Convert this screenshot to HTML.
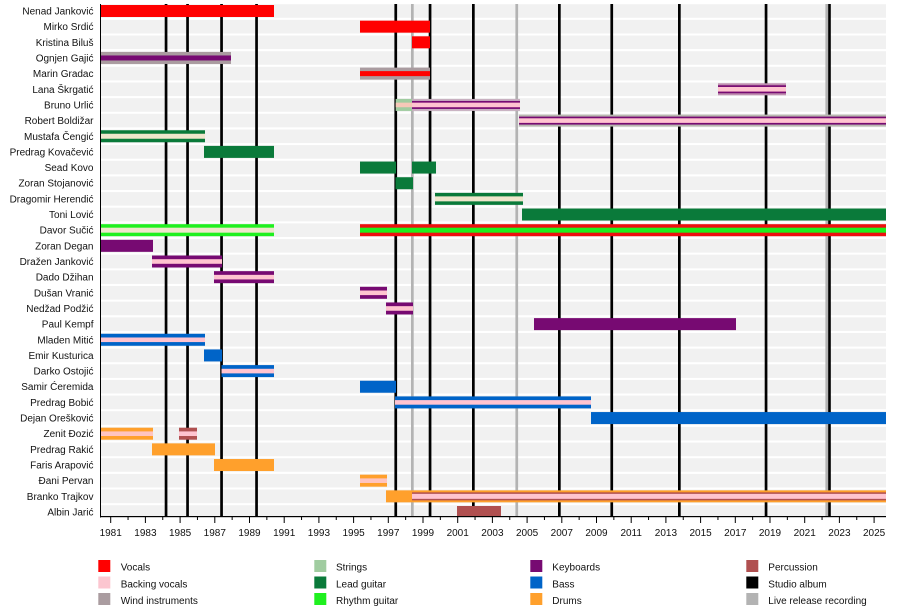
<!DOCTYPE html>
<html><head><meta charset="utf-8"><style>
html,body{margin:0;padding:0;background:#fff;}
svg{display:block;}
text{font-family:"Liberation Sans",Arial,sans-serif;font-size:10px;fill:#111;}
</style></head><body>
<svg width="900" height="612" viewBox="0 0 900 612" xmlns="http://www.w3.org/2000/svg">
<defs>
<g id="stripe"><rect x="101" y="-6.8" width="785" height="13.6" fill="#f1f1f1"/></g>
</defs>
<!-- stripes -->
<g>
<use href="#stripe" y="11"/><use href="#stripe" y="26.66"/><use href="#stripe" y="42.31"/><use href="#stripe" y="57.97"/>
<use href="#stripe" y="73.62"/><use href="#stripe" y="89.28"/><use href="#stripe" y="104.94"/><use href="#stripe" y="120.59"/>
<use href="#stripe" y="136.25"/><use href="#stripe" y="151.9"/><use href="#stripe" y="167.56"/><use href="#stripe" y="183.22"/>
<use href="#stripe" y="198.87"/><use href="#stripe" y="214.53"/><use href="#stripe" y="230.18"/><use href="#stripe" y="245.84"/>
<use href="#stripe" y="261.5"/><use href="#stripe" y="277.15"/><use href="#stripe" y="292.81"/><use href="#stripe" y="308.46"/>
<use href="#stripe" y="324.12"/><use href="#stripe" y="339.78"/><use href="#stripe" y="355.43"/><use href="#stripe" y="371.09"/>
<use href="#stripe" y="386.74"/><use href="#stripe" y="402.4"/><use href="#stripe" y="418.06"/><use href="#stripe" y="433.71"/>
<use href="#stripe" y="449.37"/><use href="#stripe" y="465.02"/><use href="#stripe" y="480.68"/><use href="#stripe" y="496.34"/>
<use href="#stripe" y="512"/>
</g>
<rect x="101" y="516" width="785" height="4" fill="#fff"/>
<!-- event lines -->
<g fill="#000">
<rect x="164.7" y="4" width="2.7" height="513"/>
<rect x="186.2" y="4" width="2.7" height="513"/>
<rect x="220.2" y="4" width="2.7" height="513"/>
<rect x="255.2" y="4" width="2.7" height="513"/>
<rect x="394.4" y="4" width="2.7" height="513"/>
<rect x="428.7" y="4" width="2.7" height="513"/>
<rect x="472" y="4" width="2.7" height="513"/>
<rect x="558" y="4" width="2.7" height="513"/>
<rect x="610.4" y="4" width="2.7" height="513"/>
<rect x="678" y="4" width="2.7" height="513"/>
<rect x="764.7" y="4" width="2.7" height="513"/>
<rect x="828.1" y="4" width="2.7" height="513"/>
</g>
<g fill="#b3b3b3">
<rect x="411" y="4" width="2.7" height="513"/>
<rect x="515.4" y="4" width="2.7" height="513"/>
<rect x="825.4" y="4" width="2.7" height="513"/>
</g>
<!-- bars -->
<!-- 0 Nenad -->
<g transform="translate(0,11)"><rect x="101" y="-6" width="173" height="12" fill="#ff0000"/></g>
<!-- 1 Mirko -->
<g transform="translate(0,26.66)"><rect x="360" y="-6" width="70" height="12" fill="#ff0000"/></g>
<!-- 2 Kristina -->
<g transform="translate(0,42.31)"><rect x="412" y="-6" width="18" height="12" fill="#ff0000"/></g>
<!-- 3 Ognjen -->
<g transform="translate(0,57.97)"><rect x="101" y="-6" width="130" height="12" fill="#aa9ca0"/><rect x="101" y="-2.5" width="130" height="5" fill="#770a72"/></g>
<!-- 4 Marin -->
<g transform="translate(0,73.62)"><rect x="360" y="-6" width="70" height="12" fill="#aa9ca0"/><rect x="360" y="-2.5" width="70" height="5" fill="#ff0000"/></g>
<!-- 5 Lana -->
<g transform="translate(0,89.28)"><rect x="718" y="-6" width="68" height="12" fill="#c090b0"/><rect x="718" y="-4" width="68" height="8" fill="#770a72"/><rect x="718" y="-2.3" width="68" height="4.6" fill="#ffc4d0"/></g>
<!-- 6 Bruno -->
<g transform="translate(0,104.94)"><rect x="395.7" y="-6" width="16.3" height="12" fill="#a0cca0"/><rect x="395.7" y="-2.3" width="16.3" height="4.6" fill="#f6c8b8"/>
<rect x="412" y="-6" width="108" height="12" fill="#c8b0c0"/><rect x="412" y="-4" width="108" height="8" fill="#770a72"/><rect x="412" y="-2.3" width="108" height="4.6" fill="#ffc4d0"/></g>
<!-- 7 Robert -->
<g transform="translate(0,120.59)"><rect x="519" y="-6" width="367" height="12" fill="#b8b8b0"/><rect x="519" y="-4" width="367" height="8" fill="#770a72"/><rect x="519" y="-2.3" width="367" height="4.6" fill="#ffc4d0"/></g>
<!-- 8 Mustafa -->
<g transform="translate(0,136.25)"><rect x="101" y="-6" width="104" height="12" fill="#0a7a3a"/><rect x="101" y="-2.5" width="104" height="5" fill="#efe6cc"/></g>
<!-- 9 Predrag K -->
<g transform="translate(0,151.9)"><rect x="204" y="-6" width="70" height="12" fill="#0a7a3a"/></g>
<!-- 10 Sead -->
<g transform="translate(0,167.56)"><rect x="360" y="-6" width="36" height="12" fill="#0a7a3a"/><rect x="412" y="-6" width="24" height="12" fill="#0a7a3a"/></g>
<!-- 11 Zoran S -->
<g transform="translate(0,183.22)"><rect x="395.5" y="-6" width="17.5" height="12" fill="#0a7a3a"/></g>
<!-- 12 Dragomir -->
<g transform="translate(0,198.87)"><rect x="435" y="-6" width="88" height="12" fill="#0a7a3a"/><rect x="435" y="-2.5" width="88" height="5" fill="#efe6cc"/></g>
<!-- 13 Toni -->
<g transform="translate(0,214.53)"><rect x="522" y="-6" width="364" height="12" fill="#0a7a3a"/></g>
<!-- 14 Davor -->
<g transform="translate(0,230.18)"><rect x="101" y="-6" width="173" height="12" fill="#1ff01f"/><rect x="101" y="-2.5" width="173" height="5" fill="#efe6cc"/>
<rect x="360" y="-6" width="526" height="12" fill="#ee1010"/><rect x="360" y="-2.5" width="526" height="5" fill="#1ff01f"/></g>
<!-- 15 Zoran D -->
<g transform="translate(0,245.84)"><rect x="101" y="-6" width="52" height="12" fill="#770a72"/></g>
<!-- 16 Dražen -->
<g transform="translate(0,261.5)"><rect x="152" y="-6" width="70" height="12" fill="#770a72"/><rect x="152" y="-2.3" width="70" height="4.6" fill="#ffc4d0"/></g>
<!-- 17 Dado -->
<g transform="translate(0,277.15)"><rect x="214" y="-6" width="60" height="12" fill="#770a72"/><rect x="214" y="-2.3" width="60" height="4.6" fill="#ffc4d0"/></g>
<!-- 18 Dušan -->
<g transform="translate(0,292.81)"><rect x="360" y="-6" width="27" height="12" fill="#770a72"/><rect x="360" y="-2.3" width="27" height="4.6" fill="#ffc4d0"/></g>
<!-- 19 Nedžad -->
<g transform="translate(0,308.46)"><rect x="386" y="-6" width="27" height="12" fill="#770a72"/><rect x="386" y="-2.3" width="27" height="4.6" fill="#ffc4d0"/></g>
<!-- 20 Paul -->
<g transform="translate(0,324.12)"><rect x="534" y="-6" width="202" height="12" fill="#770a72"/></g>
<!-- 21 Mladen -->
<g transform="translate(0,339.78)"><rect x="101" y="-6" width="104" height="12" fill="#0064c8"/><rect x="101" y="-2.3" width="104" height="4.6" fill="#ffc4d0"/></g>
<!-- 22 Emir -->
<g transform="translate(0,355.43)"><rect x="204" y="-6" width="18" height="12" fill="#0064c8"/></g>
<!-- 23 Darko -->
<g transform="translate(0,371.09)"><rect x="221.5" y="-6" width="52.5" height="12" fill="#0064c8"/><rect x="221.5" y="-2.3" width="52.5" height="4.6" fill="#ffc4d0"/></g>
<!-- 24 Samir -->
<g transform="translate(0,386.74)"><rect x="360" y="-6" width="36" height="12" fill="#0064c8"/></g>
<!-- 25 Predrag B -->
<g transform="translate(0,402.4)"><rect x="395" y="-6" width="196" height="12" fill="#0064c8"/><rect x="395" y="-2.3" width="196" height="4.6" fill="#ffc4d0"/></g>
<!-- 26 Dejan -->
<g transform="translate(0,418.06)"><rect x="591" y="-6" width="295" height="12" fill="#0064c8"/></g>
<!-- 27 Zenit -->
<g transform="translate(0,433.71)"><rect x="101" y="-6" width="52" height="12" fill="#ffa02c"/><rect x="101" y="-2.3" width="52" height="4.6" fill="#ffc4c0"/>
<rect x="179" y="-6" width="18" height="12" fill="#b05050"/><rect x="179" y="-2.3" width="18" height="4.6" fill="#ffc4d0"/></g>
<!-- 28 Predrag R -->
<g transform="translate(0,449.37)"><rect x="152" y="-6" width="63" height="12" fill="#ffa02c"/></g>
<!-- 29 Faris -->
<g transform="translate(0,465.02)"><rect x="214" y="-6" width="60" height="12" fill="#ffa02c"/></g>
<!-- 30 Đani -->
<g transform="translate(0,480.68)"><rect x="360" y="-6" width="27" height="12" fill="#ffa02c"/><rect x="360" y="-2.3" width="27" height="4.6" fill="#ffc4c0"/></g>
<!-- 31 Branko -->
<g transform="translate(0,496.34)"><rect x="386" y="-6" width="26" height="12" fill="#ffa02c"/>
<rect x="412" y="-6" width="474" height="12" fill="#ffa02c"/><rect x="412" y="-4" width="474" height="8" fill="#b05050"/><rect x="412" y="-2.5" width="474" height="5" fill="#ffc4d0"/></g>
<!-- 32 Albin -->
<g transform="translate(0,512)"><rect x="457" y="-6" width="44" height="11" fill="#b05050"/></g>

<!-- axes -->
<rect x="100" y="4" width="1" height="513.5" fill="#000"/>
<rect x="100" y="516" width="786" height="1.2" fill="#000"/>
<g stroke="#000" stroke-width="1">
<path d="M110.7 517v6M145.4 517v6M180.1 517v6M214.8 517v6M249.5 517v6M284.2 517v6M318.9 517v6M353.6 517v6M388.3 517v6M423 517v6M457.7 517v6M492.4 517v6M527.1 517v6M561.8 517v6M596.5 517v6M631.2 517v6M665.9 517v6M700.6 517v6M735.3 517v6M770 517v6M804.7 517v6M839.4 517v6M874.1 517v6"/>
<path d="M128.05 517v3M162.75 517v3M197.45 517v3M232.15 517v3M266.85 517v3M301.55 517v3M336.25 517v3M370.95 517v3M405.65 517v3M440.35 517v3M475.05 517v3M509.75 517v3M544.45 517v3M579.15 517v3M613.85 517v3M648.55 517v3M683.25 517v3M717.95 517v3M752.65 517v3M787.35 517v3M822.05 517v3M856.75 517v3"/>
</g>
<g text-anchor="middle" style="font-size:9.6px">
<text x="110.7" y="536">1981</text><text x="145.4" y="536">1983</text><text x="180.1" y="536">1985</text><text x="214.8" y="536">1987</text>
<text x="249.5" y="536">1989</text><text x="284.2" y="536">1991</text><text x="318.9" y="536">1993</text><text x="353.6" y="536">1995</text>
<text x="388.3" y="536">1997</text><text x="423" y="536">1999</text><text x="457.7" y="536">2001</text><text x="492.4" y="536">2003</text>
<text x="527.1" y="536">2005</text><text x="561.8" y="536">2007</text><text x="596.5" y="536">2009</text><text x="631.2" y="536">2011</text>
<text x="665.9" y="536">2013</text><text x="700.6" y="536">2015</text><text x="735.3" y="536">2017</text><text x="770" y="536">2019</text>
<text x="804.7" y="536">2021</text><text x="839.4" y="536">2023</text><text x="874.1" y="536">2025</text>
</g>

<!-- row labels -->
<g text-anchor="end">
<text x="93.5" y="14.5">Nenad Janković</text>
<text x="93.5" y="30.16">Mirko Srdić</text>
<text x="93.5" y="45.81">Kristina Biluš</text>
<text x="93.5" y="61.47">Ognjen Gajić</text>
<text x="93.5" y="77.12">Marin Gradac</text>
<text x="93.5" y="92.78">Lana Škrgatić</text>
<text x="93.5" y="108.44">Bruno Urlić</text>
<text x="93.5" y="124.09">Robert Boldižar</text>
<text x="93.5" y="139.75">Mustafa Čengić</text>
<text x="93.5" y="155.4">Predrag Kovačević</text>
<text x="93.5" y="171.06">Sead Kovo</text>
<text x="93.5" y="186.72">Zoran Stojanović</text>
<text x="93.5" y="202.37">Dragomir Herendić</text>
<text x="93.5" y="218.03">Toni Lović</text>
<text x="93.5" y="233.68">Davor Sučić</text>
<text x="93.5" y="249.34">Zoran Degan</text>
<text x="93.5" y="265">Dražen Janković</text>
<text x="93.5" y="280.65">Dado Džihan</text>
<text x="93.5" y="296.31">Dušan Vranić</text>
<text x="93.5" y="311.96">Nedžad Podžić</text>
<text x="93.5" y="327.62">Paul Kempf</text>
<text x="93.5" y="343.28">Mladen Mitić</text>
<text x="93.5" y="358.93">Emir Kusturica</text>
<text x="93.5" y="374.59">Darko Ostojić</text>
<text x="93.5" y="390.24">Samir Ćeremida</text>
<text x="93.5" y="405.9">Predrag Bobić</text>
<text x="93.5" y="421.56">Dejan Orešković</text>
<text x="93.5" y="437.21">Zenit Đozić</text>
<text x="93.5" y="452.87">Predrag Rakić</text>
<text x="93.5" y="468.52">Faris Arapović</text>
<text x="93.5" y="484.18">Đani Pervan</text>
<text x="93.5" y="499.84">Branko Trajkov</text>
<text x="93.5" y="515.5">Albin Jarić</text>
</g>

<!-- legend -->
<g>
<rect x="98.3" y="560" width="12" height="12" fill="#ff0000"/>
<rect x="98.3" y="576.5" width="12" height="12" fill="#fcc6d0"/>
<rect x="98.3" y="593" width="12" height="12" fill="#aa9ca0"/>
<text x="120.7" y="570.5">Vocals</text>
<text x="120.7" y="587.5">Backing vocals</text>
<text x="120.7" y="604">Wind instruments</text>

<rect x="314.3" y="560" width="12" height="12" fill="#a0cca0"/>
<rect x="314.3" y="576.5" width="12" height="12" fill="#0a7a3a"/>
<rect x="314.3" y="593" width="12" height="12" fill="#1ff01f"/>
<text x="336" y="570.5">Strings</text>
<text x="336" y="587.5">Lead guitar</text>
<text x="336" y="604">Rhythm guitar</text>

<rect x="530.3" y="560" width="12" height="12" fill="#770a72"/>
<rect x="530.3" y="576.5" width="12" height="12" fill="#0064c8"/>
<rect x="530.3" y="593" width="12" height="12" fill="#ffa02c"/>
<text x="552.3" y="570.5">Keyboards</text>
<text x="552.3" y="587.5">Bass</text>
<text x="552.3" y="604">Drums</text>

<rect x="746.3" y="560" width="12" height="12" fill="#b05050"/>
<rect x="746.3" y="576.5" width="12" height="12" fill="#000"/>
<rect x="746.3" y="593" width="12" height="12" fill="#b3b3b3"/>
<text x="768.3" y="570.5">Percussion</text>
<text x="768.3" y="587.5">Studio album</text>
<text x="768.3" y="604">Live release recording</text>
</g>
</svg>
</body></html>
